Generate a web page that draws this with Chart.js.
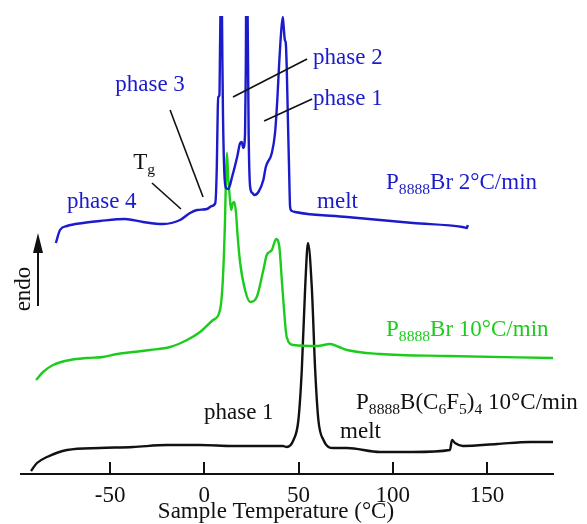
<!DOCTYPE html>
<html>
<head>
<meta charset="utf-8">
<script src="https://cdn.jsdelivr.net/npm/chart.js@4.4.1/dist/chart.umd.min.js"></script>
<style>
  html, body { margin: 0; padding: 0; background: #fff; }
  #wrap { width: 587px; height: 524px; }
</style>
</head>
<body>
<div id="wrap"><canvas id="dscChart"></canvas></div>
<script>
// Temperatures (°C) and heat flow (arbitrary units, endo up)
var blueT = [-78.8, -76.6, -72.9, -64.4, -55.4, -42.1, -32.5, -21.9, -12.9, -7.6, -3.9, 1.4, 4.0, 5.8, 6.6, 7.1, 7.4, 8.0, 8.3, 8.7, 9.2, 9.6, 9.9, 10.6, 11.5, 12.7, 14.7, 17.4, 19.0, 19.8, 20.7, 21.6, 22.0, 22.2, 22.8, 23.2, 23.5, 24.3, 25.5, 26.6, 28.7, 31.3, 32.6, 35.8, 37.5, 38.7, 39.6, 40.7, 41.6, 42.1, 42.7, 43.2, 43.7, 44.3, 45.0, 45.5, 46.4, 48.1, 75.7, 93.2, 110.7, 137.0, 139.3, 139.8];
var blueY = [231, 244, 248, 251, 253, 255, 252, 250, 254, 261, 264, 265, 268, 271, 307, 364, 377, 379, 424, 475, 475, 407, 357, 301, 286, 285, 297, 317, 331, 332, 326, 341, 407, 475, 475, 407, 341, 287, 281, 279, 282, 294, 307, 321, 341, 374, 407, 441, 457, 447, 434, 431, 407, 357, 301, 267, 263, 262, 257, 254, 251, 247, 246, 249];

var greenT = [-89.3, -85.6, -80.3, -71.3, -62.2, -53.8, -46.3, -37.9, -28.8, -18.2, -9.2, -2.3, 4.6, 8.3, 9.8, 11.0, 11.5, 12.0, 12.7, 13.3, 14.2, 15.1, 15.9, 16.8, 17.7, 19.0, 21.6, 24.3, 27.8, 31.3, 33.1, 35.8, 38.1, 39.8, 41.1, 42.0, 43.7, 47.2, 60.0, 66.7, 71.5, 75.6, 93.2, 128.8, 185.0];
var greenY = [94, 102, 109, 114, 116, 117, 120, 122, 124, 127, 134, 142, 154, 164, 194, 257, 301, 321, 294, 281, 264, 271, 272, 261, 237, 211, 184, 172, 177, 204, 219, 224, 235, 227, 194, 171, 137, 129, 128, 130, 127, 124, 120, 118, 116];

var blackT = [-92.0, -88.8, -83.5, -72.9, -55.4, -37.9, -19.8, -2.3, 15.2, 41.7, 43.7, 47.3, 49.9, 51.7, 53.5, 55.0, 57.0, 58.8, 60.5, 63.2, 68.5, 75.7, 93.2, 110.7, 130.3, 131.4, 133.0, 137.2, 155.3, 172.8, 185.0];
var blackY = [3, 11, 17, 24, 26, 27, 29, 29, 28, 28, 27, 34, 54, 104, 187, 231, 187, 104, 54, 34, 26, 26, 22, 22, 24, 34, 31, 28, 30, 32, 32];

var xTicks = [-50, 0, 50, 100, 150];
var xTitle = 'Sample Temperature (°C)';

// Annotations in data coordinates (x = °C, y = heat flow units)
var labelFont = '"Liberation Serif", "Times New Roman", serif';
var blue = '#1b1bcc';
var green = '#1ccc1c';
var black = '#111111';

var notes = [
    { x: -47.3, y: 389, color: blue, parts: [["phase 3"]] },
    { x: 57.7, y: 416, color: blue, parts: [["phase 2"]] },
    { x: 57.7, y: 375, color: blue, parts: [["phase 1"]] },
    { x: 59.8, y: 272, color: blue, parts: [["melt"]] },
    { x: 96.4, y: 291, color: blue, parts: [["P"], ["8888", 1], ["Br 2°C/min"]] },
    { x: -72.9, y: 272, color: blue, parts: [["phase 4"]] },
    { x: -37.8, y: 311, color: black, parts: [["T"], ["g", 1]] },
    { x: 96.4, y: 144, color: green, parts: [["P"], ["8888", 1], ["Br 10°C/min"]] },
    { x: 80.5, y: 71, color: black, parts: [["P"], ["8888", 1], ["B(C"], ["6", 1], ["F"], ["5", 1], [")"], ["4", 1], [" 10°C/min"]] },
    { x: 72.0, y: 42, color: black, parts: [["melt"]] },
    { x: -0.2, y: 61, color: black, parts: [["phase 1"]] }
];
var leaders = [
    [-27.8, 291, -12.4, 265],
    [-18.2, 364, -0.7, 277],
    [15.2, 377, 54.5, 415],
    [31.7, 353, 57.2, 375]
];

function pts(xs, ys) {
    return xs.map(function (x, i) { return { x: x, y: ys[i] }; });
}

function drawParts(ctx, x, y, parts, size) {
    var cx = x;
    parts.forEach(function (p) {
        var sub = p[1] === 1;
        var fs = sub ? size * 0.68 : size;
        ctx.font = fs + 'px ' + labelFont;
        ctx.fillText(p[0], cx, sub ? y + size * 0.3 : y);
        cx += ctx.measureText(p[0]).width;
    });
}

var decorPlugin = {
    id: 'decor',
    afterDatasetsDraw: function (chart) {
        var ctx = chart.ctx;
        var xs = chart.scales.x;
        var ys = chart.scales.y;
        var area = chart.chartArea;
        ctx.save();

        // inward tick marks
        ctx.strokeStyle = black;
        ctx.lineWidth = 2;
        xTicks.forEach(function (t) {
            var px = Math.round(xs.getPixelForValue(t));
            ctx.beginPath();
            ctx.moveTo(px, area.bottom);
            ctx.lineTo(px, area.bottom - 12);
            ctx.stroke();
        });

        // leader lines
        ctx.lineWidth = 1.6;
        leaders.forEach(function (l) {
            ctx.beginPath();
            ctx.moveTo(xs.getPixelForValue(l[0]), ys.getPixelForValue(l[1]));
            ctx.lineTo(xs.getPixelForValue(l[2]), ys.getPixelForValue(l[3]));
            ctx.stroke();
        });

        // labels
        ctx.textBaseline = 'middle';
        ctx.textAlign = 'left';
        notes.forEach(function (n) {
            ctx.fillStyle = n.color;
            drawParts(ctx, xs.getPixelForValue(n.x), ys.getPixelForValue(n.y), n.parts, 23);
        });

        // axis title, sits a little left of the axis centre in the original
        ctx.fillStyle = black;
        ctx.textAlign = 'center';
        ctx.textBaseline = 'alphabetic';
        ctx.font = '23px ' + labelFont;
        ctx.fillText(xTitle, xs.getPixelForValue(38), area.bottom + 44);

        // endo arrow
        ctx.strokeStyle = black;
        ctx.lineWidth = 2;
        ctx.beginPath();
        ctx.moveTo(38, 306);
        ctx.lineTo(38, 246);
        ctx.stroke();
        ctx.beginPath();
        ctx.moveTo(38, 233);
        ctx.lineTo(33, 253);
        ctx.lineTo(43, 253);
        ctx.closePath();
        ctx.fill();

        ctx.translate(24, 289);
        ctx.rotate(-Math.PI / 2);
        ctx.textBaseline = 'middle';
        ctx.font = '23px ' + labelFont;
        ctx.fillText('endo', 0, 0);
        ctx.restore();
    }
};

var ctx = document.getElementById('dscChart');
var dscChart = new Chart(ctx, {
    type: 'line',
    data: {
        datasets: [{
            label: 'P8888Br 2°C/min',
            data: pts(blueT, blueY),
            borderColor: blue,
            borderWidth: 2.4,
            pointRadius: 0,
            cubicInterpolationMode: 'monotone'
        },
        {
            label: 'P8888Br 10°C/min',
            data: pts(greenT, greenY),
            borderColor: green,
            borderWidth: 2.4,
            pointRadius: 0,
            cubicInterpolationMode: 'monotone'
        },
        {
            label: 'P8888B(C6F5)4 10°C/min',
            data: pts(blackT, blackY),
            borderColor: black,
            borderWidth: 2.4,
            pointRadius: 0,
            cubicInterpolationMode: 'monotone'
        }]
    },
    options: {
        responsive: true,
        maintainAspectRatio: false,
        animation: false,
        layout: { padding: { left: 21, right: 34, top: 16, bottom: 0 } },
        plugins: {
            legend: { display: false },
            tooltip: { enabled: false }
        },
        scales: {
            x: {
                type: 'linear',
                min: -97.3,
                max: 185,
                afterBuildTicks: function (scale) {
                    scale.ticks = xTicks.map(function (v) { return { value: v }; });
                },
                afterFit: function (scale) {
                    scale.height = 50;
                },
                grid: { display: false, drawTicks: false },
                border: { display: true, color: black, width: 2 },
                ticks: {
                    color: black,
                    padding: 8,
                    maxRotation: 0,
                    font: { family: labelFont, size: 23 }
                },
                title: { display: false }
            },
            y: {
                type: 'linear',
                display: false,
                min: 0,
                max: 458
            }
        }
    },
    plugins: [decorPlugin]
});
</script>
</body>
</html>
